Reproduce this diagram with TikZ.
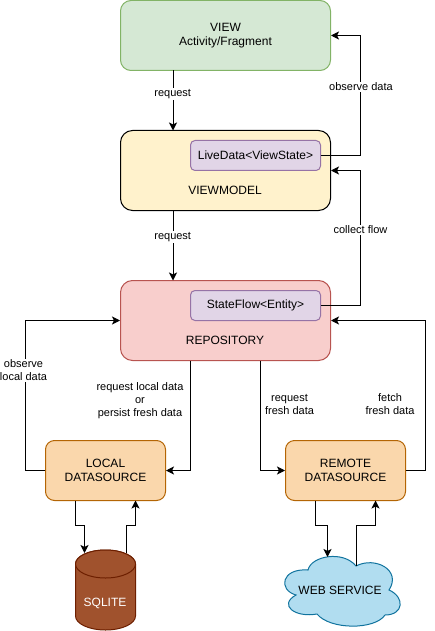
\documentclass[tikz,border=0pt]{standalone}
\usepackage{fontspec}
\setmainfont{Liberation Sans}
\usetikzlibrary{arrows.meta}
\definecolor{gf}{HTML}{D5E8D4}\definecolor{gs}{HTML}{82B366}
\definecolor{yf}{HTML}{FFF2CC}
\definecolor{pf}{HTML}{E1D5E7}\definecolor{ps}{HTML}{9673A6}
\definecolor{rf}{HTML}{F8CECC}\definecolor{rs}{HTML}{B85450}
\definecolor{of}{HTML}{FAD7AC}\definecolor{os}{HTML}{B46504}
\definecolor{cf}{HTML}{A0522D}\definecolor{cs}{HTML}{6D1F00}
\definecolor{bf}{HTML}{B1DDF0}\definecolor{bs}{HTML}{10739E}
\tikzset{
 box/.style={draw,rectangle,line width=1pt,inner sep=0pt,align=center,font=\fontsize{12}{14}\selectfont},
 twoline/.style={execute at begin node={\rule{0pt}{11.5pt}}},
 big/.style={box,minimum width=210pt,minimum height=80pt,rounded corners=12pt},
 inner/.style={box,fill=pf,draw=ps,minimum width=130pt,minimum height=30pt,rounded corners=4.5pt},
 ds/.style={box,twoline,fill=of,draw=os,minimum width=120pt,minimum height=60pt,rounded corners=9pt},
 title/.style={inner sep=0pt,align=center,font=\fontsize{12}{14}\selectfont},
 lab/.style={inner sep=1pt,align=center,fill=white,font=\fontsize{11}{13}\selectfont},
 arr/.style={line width=1pt,-{Stealth[length=8pt,width=8pt,inset=2pt]}},
}
\begin{document}
\begin{tikzpicture}[x=1pt,y=-1pt]
\useasboundingbox (0,0) rectangle (434,631);
% boxes
\node[box,twoline,fill=gf,draw=gs,minimum width=210pt,minimum height=70pt,rounded corners=10.5pt] (view) at (225.5,35.5) {VIEW\\Activity/Fragment};
\node[big,fill=yf] (vm) at (225.5,170.5) {};
\node[big,fill=rf,draw=rs] (repo) at (225.5,320.5) {};
\node[inner] (live) at (255.5,155.5) {LiveData<ViewState>};
\node[inner] (state) at (255.5,305.5) {StateFlow<Entity>};
\node[title] (vmt) at (225,190.5) {VIEWMODEL};
\node[title] (repot) at (225,340.5) {REPOSITORY};
\node[ds] (local) at (105.5,470.5) {LOCAL\\DATASOURCE};
\node[ds] (remote) at (345.5,470.5) {REMOTE\\DATASOURCE};
% cylinder
\path[fill=cf,draw=cs,line width=1pt] (75.5,564) arc[start angle=180,end angle=360,x radius=30,y radius=14] -- (135.5,616) arc[start angle=0,end angle=180,x radius=30,y radius=14] -- cycle;
\path[fill=cf,draw=cs,line width=1pt] (75.5,564) arc[start angle=180,end angle=0,x radius=30,y radius=14] arc[start angle=0,end angle=-180,x radius=30,y radius=14];
\node[inner sep=0pt,text=white,font=\fontsize{12}{14}\selectfont] (sqlite) at (105,603) {SQLITE};
% cloud
\path[fill=bf,draw=bs,line width=1pt] (296,595)
 .. controls (278,590) and (281,568) .. (308,570)
 .. controls (311,556) and (343,550) .. (356,566)
 .. controls (375,556) and (402,570) .. (389,590)
 .. controls (405,597) and (404,615) .. (385,615)
 .. controls (375,630) and (330,630) .. (317,614)
 .. controls (295,618) and (278,605) .. (296,595) -- cycle;
\node[inner sep=0pt,font=\fontsize{12}{14}\selectfont] (web) at (340,590.5) {WEB SERVICE};
% waypoints
\coordinate (a) at (360.5,35.5);
\coordinate (b) at (360.5,155.5);
\coordinate (c) at (360.5,170.5);
\coordinate (d) at (360.5,305.5);
\coordinate (e) at (25.5,320.5);
\coordinate (f) at (25.5,470.5);
\coordinate (g) at (425.5,320.5);
\coordinate (h) at (425.5,470.5);
\coordinate (i) at (190.5,360.5);
\coordinate (j) at (190.5,470.5);
\coordinate (k) at (260.5,360.5);
\coordinate (l) at (260.5,470.5);
\coordinate (v1) at (173,70.5);\coordinate (v2) at (173,130.5);
\coordinate (v3) at (173,210.5);\coordinate (v4) at (173,280.5);
\coordinate (s1) at (75.5,500.5);\coordinate (s2) at (75.5,525.5);\coordinate (s3) at (84.5,525.5);\coordinate (s4) at (84.5,553);
\coordinate (s5) at (126.5,553);\coordinate (s6) at (126.5,525.5);\coordinate (s7) at (135.5,525.5);\coordinate (s8) at (135.5,500.5);
\coordinate (w1) at (315.5,500.5);\coordinate (w2) at (315.5,525.5);\coordinate (w3) at (327.5,525.5);\coordinate (w4) at (327.5,557);
\coordinate (w5) at (356.5,566);\coordinate (w6) at (356.5,525.5);\coordinate (w7) at (375.5,525.5);\coordinate (w8) at (375.5,500.5);
% connectors
\draw[arr] (v1) -- (v2);
\draw[arr] (v3) -- (v4);
\draw[arr] (live.east) -- (b) -- (a) -- (view.east);
\draw[arr] (state.east) -- (d) -- (c) -- (vm.east);
\draw[arr] (local.west) -- (f) -- (e) -- (repo.west);
\draw[arr] (remote.east) -- (h) -- (g) -- (repo.east);
\draw[arr] (i) -- (j) -- (local.east);
\draw[arr] (k) -- (l) -- (remote.west);
\draw[arr] (s1) -- (s2) -- (s3) -- (s4);
\draw[arr] (s5) -- (s6) -- (s7) -- (s8);
\draw[arr] (w1) -- (w2) -- (w3) -- (w4);
\draw[arr] (w5) -- (w6) -- (w7) -- (w8);
% labels
\node[lab] (l1) at (172.7,94) {request};
\node[lab] (l2) at (172.7,237) {request};
\node[lab] (l3) at (361,87) {observe data};
\node[lab] (l4) at (360.5,230) {collect flow};
\node[lab] (l5) at (23.5,370.5) {observe\\local data};
\node[lab] (l6) at (140,401) {request local data\\or\\persist fresh data};
\node[lab] (l7) at (289.5,404) {request\\fresh data};
\node[lab] (l8) at (390,404) {fetch\\fresh data};
\end{tikzpicture}
\end{document}
